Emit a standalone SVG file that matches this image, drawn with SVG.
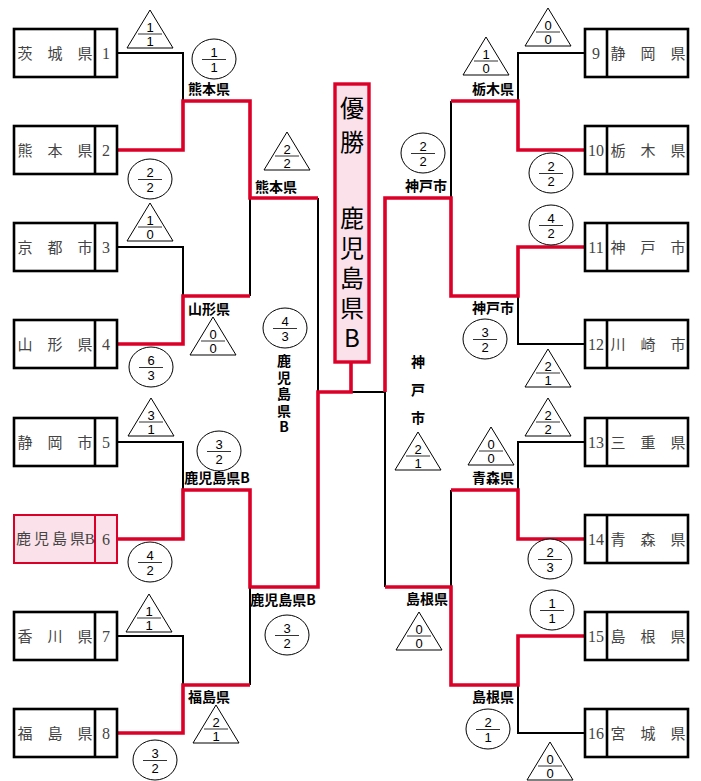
<svg xmlns="http://www.w3.org/2000/svg" width="701" height="781" viewBox="0 0 701 781">
<style>
.bg{fill:#fff}
.box{fill:#fff;stroke:#000;stroke-width:2.6}
.box6{fill:#fbe1ea;stroke:#dc0028;stroke-width:2}
.nm{font-family:"Noto Sans CJK JP","Noto Sans",sans-serif;font-size:15px;fill:#444;text-anchor:middle}
.no{font-family:"Liberation Serif",serif;font-size:16px;fill:#444;text-anchor:middle}
.lbl{font-family:"Noto Sans CJK JP","Noto Sans",sans-serif;font-size:14px;font-weight:bold;fill:#000;text-anchor:middle}
.vt{font-family:"Noto Sans CJK JP","Noto Sans",sans-serif;font-weight:bold;fill:#000;writing-mode:vertical-rl;text-orientation:upright}
.blk{fill:none;stroke:#000;stroke-width:2}
.red{fill:none;stroke:#dc0028;stroke-width:3.6}
.sc{fill:#fff;stroke:#000;stroke-width:1}
.fl{stroke:#333;stroke-width:1}
.fr{font-family:"Liberation Sans",Arial,sans-serif;font-size:13px;fill:#000;text-anchor:middle}
.ttl{font-family:"Noto Sans CJK JP",sans-serif;font-size:24px;fill:#000;writing-mode:vertical-rl;text-orientation:upright}
</style>
<defs>
<polygon id="tri" points="0,0 -23,38 23,38" class="sc"/>
<ellipse id="cir" cx="0" cy="0" rx="22" ry="20" class="sc"/>
</defs>
<rect class="bg" x="0" y="0" width="701" height="781"/>

<g id="connectors">
<path class="blk" d="M117,53 H183 V101"/>
<path class="blk" d="M117,247 H183 V296"/>
<path class="blk" d="M250,296 V198"/>
<path class="blk" d="M318,198 V392"/>
<path class="blk" d="M117,442 H183 V490"/>
<path class="blk" d="M117,636 H183 V685"/>
<path class="blk" d="M250,685 V587"/>
<path class="blk" d="M351,392 H385"/>
<path class="blk" d="M585,53 H518 V101"/>
<path class="blk" d="M451,101 V198"/>
<path class="blk" d="M585,344 H518 V296"/>
<path class="blk" d="M385,392 V587"/>
<path class="blk" d="M585,442 H518 V490"/>
<path class="blk" d="M451,490 V587"/>
<path class="blk" d="M585,733 H518 V685"/>
<path class="red" d="M117,150 H183 V101 H250 V198 H318"/>
<path class="red" d="M117,344 H183 V296 H250"/>
<path class="red" d="M117,539 H183 V490 H250 V587 H318 V392 H351 V362"/>
<path class="red" d="M117,733 H183 V685 H250"/>
<path class="red" d="M585,150 H518 V101 H451"/>
<path class="red" d="M585,247 H518 V296 H451 V198 H385 V392"/>
<path class="red" d="M585,539 H518 V490 H451"/>
<path class="red" d="M585,636 H518 V685 H451 V587 H385"/>
</g>

<g id="title">
<rect x="335" y="84" width="34" height="278" fill="#fbe1ea" stroke="#dc0028" stroke-width="3.4"/>
<text class="ttl" x="352" y="96" letter-spacing="10">優勝</text>
<text class="ttl" x="352" y="206" letter-spacing="6">鹿児島県B</text>
</g>

<g id="team1"><rect class="box" x="14" y="29" width="103" height="48"/><line class="box" x1="95" y1="29" x2="95" y2="77"/><text class="nm" x="25 55 85" y="58.5">茨城県</text><text class="no" x="106" y="58.5">1</text></g>
<g id="team2"><rect class="box" x="14" y="126" width="103" height="48"/><line class="box" x1="95" y1="126" x2="95" y2="174"/><text class="nm" x="25 55 85" y="155.5">熊本県</text><text class="no" x="106" y="155.5">2</text></g>
<g id="team3"><rect class="box" x="14" y="223" width="103" height="48"/><line class="box" x1="95" y1="223" x2="95" y2="271"/><text class="nm" x="25 55 85" y="252.5">京都市</text><text class="no" x="106" y="252.5">3</text></g>
<g id="team4"><rect class="box" x="14" y="320" width="103" height="48"/><line class="box" x1="95" y1="320" x2="95" y2="368"/><text class="nm" x="25 55 85" y="349.5">山形県</text><text class="no" x="106" y="349.5">4</text></g>
<g id="team5"><rect class="box" x="14" y="418" width="103" height="48"/><line class="box" x1="95" y1="418" x2="95" y2="466"/><text class="nm" x="25 55 85" y="447.5">静岡市</text><text class="no" x="106" y="447.5">5</text></g>
<g id="team6"><rect class="box6" x="14" y="515" width="103" height="48"/><line class="box6" x1="95" y1="515" x2="95" y2="563"/><text class="nm" font-size="14" x="23.5 41.5 59.5 77.5" y="544">鹿児島県<tspan x="89.8" font-family="Liberation Serif, serif" font-size="15">B</tspan></text><text class="no" x="106" y="544.5">6</text></g>
<g id="team7"><rect class="box" x="14" y="612" width="103" height="48"/><line class="box" x1="95" y1="612" x2="95" y2="660"/><text class="nm" x="25 55 85" y="641.5">香川県</text><text class="no" x="106" y="641.5">7</text></g>
<g id="team8"><rect class="box" x="14" y="709" width="103" height="48"/><line class="box" x1="95" y1="709" x2="95" y2="757"/><text class="nm" x="25 55 85" y="738.5">福島県</text><text class="no" x="106" y="738.5">8</text></g>

<g id="team9"><rect class="box" x="585" y="29" width="103" height="48"/><line class="box" x1="607" y1="29" x2="607" y2="77"/><text class="nm" x="618 648 678" y="58.5">静岡県</text><text class="no" x="596" y="58.5">9</text></g>
<g id="team10"><rect class="box" x="585" y="126" width="103" height="48"/><line class="box" x1="607" y1="126" x2="607" y2="174"/><text class="nm" x="618 648 678" y="155.5">栃木県</text><text class="no" x="596" y="155.5">10</text></g>
<g id="team11"><rect class="box" x="585" y="223" width="103" height="48"/><line class="box" x1="607" y1="223" x2="607" y2="271"/><text class="nm" x="618 648 678" y="252.5">神戸市</text><text class="no" x="596" y="252.5">11</text></g>
<g id="team12"><rect class="box" x="585" y="320" width="103" height="48"/><line class="box" x1="607" y1="320" x2="607" y2="368"/><text class="nm" x="618 648 678" y="349.5">川崎市</text><text class="no" x="596" y="349.5">12</text></g>
<g id="team13"><rect class="box" x="585" y="418" width="103" height="48"/><line class="box" x1="607" y1="418" x2="607" y2="466"/><text class="nm" x="618 648 678" y="447.5">三重県</text><text class="no" x="596" y="447.5">13</text></g>
<g id="team14"><rect class="box" x="585" y="515" width="103" height="48"/><line class="box" x1="607" y1="515" x2="607" y2="563"/><text class="nm" x="618 648 678" y="544.5">青森県</text><text class="no" x="596" y="544.5">14</text></g>
<g id="team15"><rect class="box" x="585" y="612" width="103" height="48"/><line class="box" x1="607" y1="612" x2="607" y2="660"/><text class="nm" x="618 648 678" y="641.5">島根県</text><text class="no" x="596" y="641.5">15</text></g>
<g id="team16"><rect class="box" x="585" y="709" width="103" height="48"/><line class="box" x1="607" y1="709" x2="607" y2="757"/><text class="nm" x="618 648 678" y="738.5">宮城県</text><text class="no" x="596" y="738.5">16</text></g>

<g id="labels">
<text class="lbl" x="209" y="94">熊本県</text>
<text class="lbl" x="209" y="314">山形県</text>
<text class="lbl" x="276" y="192">熊本県</text>
<text class="lbl" x="217" y="483" font-size="13.5">鹿児島県B</text>
<text class="lbl" x="283" y="605" font-size="13.5">鹿児島県B</text>
<text class="lbl" x="209" y="702">福島県</text>
<text class="vt" x="284" y="354" font-size="14" letter-spacing="2.4">鹿児島県B</text>
<text class="lbl" x="493" y="94">栃木県</text>
<text class="lbl" x="426" y="191">神戸市</text>
<text class="lbl" x="493" y="313">神戸市</text>
<text class="lbl" x="493" y="483">青森県</text>
<text class="lbl" x="427" y="604">島根県</text>
<text class="lbl" x="493" y="702">島根県</text>
<text class="vt" x="418" y="355" font-size="14" letter-spacing="14">神戸市</text>
</g>

<g id="scores">
<g transform="translate(150,10)"><use href="#tri"/><line class="fl" x1="-12" y1="24" x2="12" y2="24"/><text class="fr" x="0" y="21.5">1</text><text class="fr" x="0" y="35.5">1</text></g>
<g transform="translate(214,59)"><use href="#cir"/><line class="fl" x1="-12" y1="0.5" x2="12" y2="0.5"/><text class="fr" x="0" y="-2.5">1</text><text class="fr" x="0" y="12.5">1</text></g>
<g transform="translate(150,179)"><use href="#cir"/><line class="fl" x1="-12" y1="0.5" x2="12" y2="0.5"/><text class="fr" x="0" y="-2.5">2</text><text class="fr" x="0" y="12.5">2</text></g>
<g transform="translate(150,203)"><use href="#tri"/><line class="fl" x1="-12" y1="24" x2="12" y2="24"/><text class="fr" x="0" y="21.5">1</text><text class="fr" x="0" y="35.5">0</text></g>
<g transform="translate(213,317)"><use href="#tri"/><line class="fl" x1="-12" y1="24" x2="12" y2="24"/><text class="fr" x="0" y="21.5">0</text><text class="fr" x="0" y="35.5">0</text></g>
<g transform="translate(151,367)"><use href="#cir"/><line class="fl" x1="-12" y1="0.5" x2="12" y2="0.5"/><text class="fr" x="0" y="-2.5">6</text><text class="fr" x="0" y="12.5">3</text></g>
<g transform="translate(287,132)"><use href="#tri"/><line class="fl" x1="-12" y1="24" x2="12" y2="24"/><text class="fr" x="0" y="21.5">2</text><text class="fr" x="0" y="35.5">2</text></g>
<g transform="translate(285,328)"><use href="#cir"/><line class="fl" x1="-12" y1="0.5" x2="12" y2="0.5"/><text class="fr" x="0" y="-2.5">4</text><text class="fr" x="0" y="12.5">3</text></g>
<g transform="translate(151,398)"><use href="#tri"/><line class="fl" x1="-12" y1="24" x2="12" y2="24"/><text class="fr" x="0" y="21.5">3</text><text class="fr" x="0" y="35.5">1</text></g>
<g transform="translate(219,451)"><use href="#cir"/><line class="fl" x1="-12" y1="0.5" x2="12" y2="0.5"/><text class="fr" x="0" y="-2.5">3</text><text class="fr" x="0" y="12.5">2</text></g>
<g transform="translate(150,562)"><use href="#cir"/><line class="fl" x1="-12" y1="0.5" x2="12" y2="0.5"/><text class="fr" x="0" y="-2.5">4</text><text class="fr" x="0" y="12.5">2</text></g>
<g transform="translate(149,594)"><use href="#tri"/><line class="fl" x1="-12" y1="24" x2="12" y2="24"/><text class="fr" x="0" y="21.5">1</text><text class="fr" x="0" y="35.5">1</text></g>
<g transform="translate(287,635)"><use href="#cir"/><line class="fl" x1="-12" y1="0.5" x2="12" y2="0.5"/><text class="fr" x="0" y="-2.5">3</text><text class="fr" x="0" y="12.5">2</text></g>
<g transform="translate(216,705)"><use href="#tri"/><line class="fl" x1="-12" y1="24" x2="12" y2="24"/><text class="fr" x="0" y="21.5">2</text><text class="fr" x="0" y="35.5">1</text></g>
<g transform="translate(155,760)"><use href="#cir"/><line class="fl" x1="-12" y1="0.5" x2="12" y2="0.5"/><text class="fr" x="0" y="-2.5">3</text><text class="fr" x="0" y="12.5">2</text></g>

<g transform="translate(548,8)"><use href="#tri"/><line class="fl" x1="-12" y1="24" x2="12" y2="24"/><text class="fr" x="0" y="21.5">0</text><text class="fr" x="0" y="35.5">0</text></g>
<g transform="translate(486,37)"><use href="#tri"/><line class="fl" x1="-12" y1="24" x2="12" y2="24"/><text class="fr" x="0" y="21.5">1</text><text class="fr" x="0" y="35.5">0</text></g>
<g transform="translate(423,153)"><use href="#cir"/><line class="fl" x1="-12" y1="0.5" x2="12" y2="0.5"/><text class="fr" x="0" y="-2.5">2</text><text class="fr" x="0" y="12.5">2</text></g>
<g transform="translate(551,173)"><use href="#cir"/><line class="fl" x1="-12" y1="0.5" x2="12" y2="0.5"/><text class="fr" x="0" y="-2.5">2</text><text class="fr" x="0" y="12.5">2</text></g>
<g transform="translate(551,225)"><use href="#cir"/><line class="fl" x1="-12" y1="0.5" x2="12" y2="0.5"/><text class="fr" x="0" y="-2.5">4</text><text class="fr" x="0" y="12.5">2</text></g>
<g transform="translate(485,339)"><use href="#cir"/><line class="fl" x1="-12" y1="0.5" x2="12" y2="0.5"/><text class="fr" x="0" y="-2.5">3</text><text class="fr" x="0" y="12.5">2</text></g>
<g transform="translate(548,349)"><use href="#tri"/><line class="fl" x1="-12" y1="24" x2="12" y2="24"/><text class="fr" x="0" y="21.5">2</text><text class="fr" x="0" y="35.5">1</text></g>
<g transform="translate(418,432)"><use href="#tri"/><line class="fl" x1="-12" y1="24" x2="12" y2="24"/><text class="fr" x="0" y="21.5">2</text><text class="fr" x="0" y="35.5">1</text></g>
<g transform="translate(548,398)"><use href="#tri"/><line class="fl" x1="-12" y1="24" x2="12" y2="24"/><text class="fr" x="0" y="21.5">2</text><text class="fr" x="0" y="35.5">2</text></g>
<g transform="translate(491,427)"><use href="#tri"/><line class="fl" x1="-12" y1="24" x2="12" y2="24"/><text class="fr" x="0" y="21.5">0</text><text class="fr" x="0" y="35.5">0</text></g>
<g transform="translate(550,559)"><use href="#cir"/><line class="fl" x1="-12" y1="0.5" x2="12" y2="0.5"/><text class="fr" x="0" y="-2.5">2</text><text class="fr" x="0" y="12.5">3</text></g>
<g transform="translate(419,612)"><use href="#tri"/><line class="fl" x1="-12" y1="24" x2="12" y2="24"/><text class="fr" x="0" y="21.5">0</text><text class="fr" x="0" y="35.5">0</text></g>
<g transform="translate(552,610)"><use href="#cir"/><line class="fl" x1="-12" y1="0.5" x2="12" y2="0.5"/><text class="fr" x="0" y="-2.5">1</text><text class="fr" x="0" y="12.5">1</text></g>
<g transform="translate(488,729)"><use href="#cir"/><line class="fl" x1="-12" y1="0.5" x2="12" y2="0.5"/><text class="fr" x="0" y="-2.5">2</text><text class="fr" x="0" y="12.5">1</text></g>
<g transform="translate(550,742)"><use href="#tri"/><line class="fl" x1="-12" y1="24" x2="12" y2="24"/><text class="fr" x="0" y="21.5">0</text><text class="fr" x="0" y="35.5">0</text></g>
</g>
</svg>
